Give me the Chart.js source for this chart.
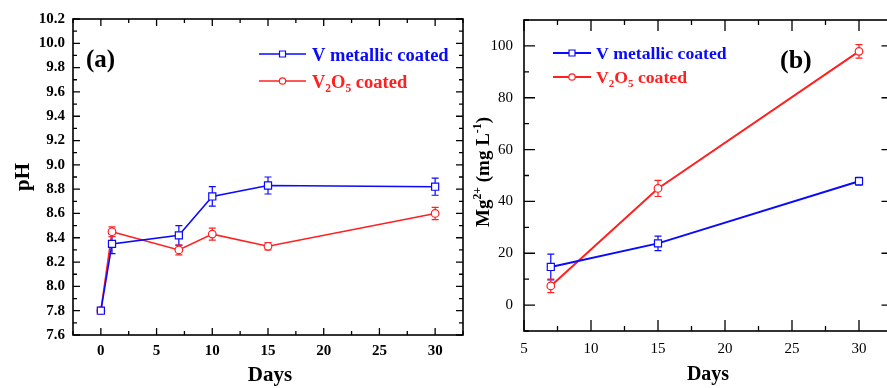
<!DOCTYPE html>
<html>
<head>
<meta charset="utf-8">
<script src="https://cdn.jsdelivr.net/npm/chart.js@4.4.1/dist/chart.umd.min.js"></script>
<style>
  html, body { margin: 0; padding: 0; background: #fff; overflow: hidden; }
  #wrap { position: relative; width: 887px; height: 388px; overflow: hidden; }
  #chartA { position: absolute; left: 0; top: 0; }
  #chartB { position: absolute; left: 470px; top: 0; }
</style>
</head>
<body>
<div id="wrap">
  <canvas id="chartA" width="470" height="388"></canvas>
  <canvas id="chartB" width="430" height="388"></canvas>
</div>
<script>
// panel (a): pH vs days
var daysA = [0, 1, 7, 10, 15, 30];
var phMetal = [7.80, 8.35, 8.42, 8.74, 8.83, 8.82];
var phMetalErr = [0, 0.08, 0.08, 0.08, 0.07, 0.07];
var phOxide = [7.80, 8.45, 8.30, 8.43, 8.33, 8.60];
var phOxideErr = [0, 0.04, 0.04, 0.05, 0.03, 0.05];
var ticksAX = [0, 5, 10, 15, 20, 25, 30];
var ticksAY = [7.6, 7.8, 8.0, 8.2, 8.4, 8.6, 8.8, 9.0, 9.2, 9.4, 9.6, 9.8, 10.0, 10.2];

// panel (b): Mg2+ release vs days
var daysB = [7, 15, 30];
var mgMetal = [14.7, 23.8, 47.8];
var mgMetalErr = [5, 2.8, 1.5];
var mgOxide = [7.4, 45, 97.9];
var mgOxideErr = [2.6, 3.1, 2.6];
var ticksBX = [5, 10, 15, 20, 25, 30];
var ticksBY = [0, 20, 40, 60, 80, 100];

var BLUE = '#0a0aff';
var RED = '#ff2020';

function pts(xs, ys) {
  var out = [];
  for (var i = 0; i < xs.length; i++) out.push({x: xs[i], y: ys[i]});
  return out;
}

function minors(major, step, lo, hi) {
  // minor ticks half way between majors, also outside the first/last one
  var out = [];
  for (var v = major[0] - step * 10; v <= hi + 1e-9; v += step) {
    if (v < lo - 1e-9) continue;
    var isMajor = major.some(function (m) { return Math.abs(m - v) < 1e-6; });
    if (!isMajor) out.push(v);
  }
  return out;
}

// draws text with sub/superscript pieces, returns width
function richWidth(ctx, parts, size, weight) {
  var w = 0;
  parts.forEach(function (p) {
    var s = p.sub || p.sup ? size * 0.62 : size;
    ctx.font = weight + ' ' + s + 'px "Liberation Serif"';
    w += ctx.measureText(p.t).width;
  });
  return w;
}
function drawRich(ctx, parts, x, y, size, weight, color) {
  ctx.fillStyle = color;
  ctx.textAlign = 'left';
  ctx.textBaseline = 'alphabetic';
  parts.forEach(function (p) {
    var s = p.sub || p.sup ? size * 0.62 : size;
    var dy = p.sub ? size * 0.2 : (p.sup ? -size * 0.4 : 0);
    ctx.font = weight + ' ' + s + 'px "Liberation Serif"';
    ctx.fillText(p.t, x, y + dy);
    x += ctx.measureText(p.t).width;
  });
}

var errorBars = {
  id: 'errorBars',
  beforeDatasetsDraw: function (chart) {
    var ctx = chart.ctx;
    var xs = chart.scales.x, ys = chart.scales.y;
    chart.data.datasets.forEach(function (ds) {
      if (!ds.err) return;
      ctx.save();
      ctx.strokeStyle = ds.borderColor;
      ctx.lineWidth = 1.2;
      ds.data.forEach(function (p, i) {
        var e = ds.err[i];
        if (!e) return;
        var px = xs.getPixelForValue(p.x);
        var top = ys.getPixelForValue(p.y + e);
        var bot = ys.getPixelForValue(p.y - e);
        ctx.beginPath();
        ctx.moveTo(px, top); ctx.lineTo(px, bot);
        ctx.moveTo(px - 3.5, top); ctx.lineTo(px + 3.5, top);
        ctx.moveTo(px - 3.5, bot); ctx.lineTo(px + 3.5, bot);
        ctx.stroke();
      });
      ctx.restore();
    });
  }
};

var decor = {
  id: 'decor',
  afterDraw: function (chart) {
    var o = chart.options.plugins.decor;
    var ctx = chart.ctx;
    var a = chart.chartArea;
    var xs = chart.scales.x, ys = chart.scales.y;
    ctx.save();
    ctx.strokeStyle = '#000';
    ctx.lineWidth = 1.6;
    ctx.strokeRect(a.left, a.top, a.right - a.left, a.bottom - a.top);

    // inward ticks on all four sides
    ctx.lineWidth = 1.3;
    function tx(v, len) {
      var px = xs.getPixelForValue(v);
      ctx.beginPath();
      ctx.moveTo(px, a.bottom); ctx.lineTo(px, a.bottom - len);
      ctx.moveTo(px, a.top); ctx.lineTo(px, a.top + len);
      ctx.stroke();
    }
    function ty(v, len) {
      var py = ys.getPixelForValue(v);
      ctx.beginPath();
      ctx.moveTo(a.left, py); ctx.lineTo(a.left + len, py);
      ctx.moveTo(a.right, py); ctx.lineTo(a.right - len, py);
      ctx.stroke();
    }
    o.xMajor.forEach(function (v) { tx(v, o.major); });
    o.xMinor.forEach(function (v) { tx(v, o.minor); });
    o.yMajor.forEach(function (v) { ty(v, o.major); });
    o.yMinor.forEach(function (v) { ty(v, o.minor); });

    // panel label
    ctx.fillStyle = '#000';
    ctx.font = 'bold ' + o.tag.size + 'px "Liberation Serif"';
    ctx.textAlign = 'left';
    ctx.textBaseline = 'middle';
    ctx.fillText(o.tag.text, o.tag.x, o.tag.y);

    // axis titles
    ctx.font = 'bold ' + o.xTitle.size + 'px "Liberation Serif"';
    ctx.textAlign = 'center';
    ctx.textBaseline = 'alphabetic';
    ctx.fillText(o.xTitle.text, o.xTitle.x, o.xTitle.y);
    ctx.save();
    ctx.translate(o.yTitle.x, o.yTitle.y);
    ctx.rotate(-Math.PI / 2);
    var w = richWidth(ctx, o.yTitle.parts, o.yTitle.size, 'bold');
    drawRich(ctx, o.yTitle.parts, -w / 2, 0, o.yTitle.size, 'bold', '#000');
    ctx.restore();

    // legend
    var L = o.legend;
    chart.data.datasets.forEach(function (ds, i) {
      var ly = L.y[i];
      ctx.strokeStyle = ds.borderColor;
      ctx.lineWidth = ds.borderWidth;
      ctx.beginPath();
      ctx.moveTo(L.x0, ly); ctx.lineTo(L.x1, ly);
      ctx.stroke();
      var mx = (L.x0 + L.x1) / 2;
      ctx.fillStyle = '#fff';
      ctx.lineWidth = 1.2;
      ctx.beginPath();
      if (ds.pointStyle === 'rect') {
        ctx.rect(mx - 3, ly - 3, 6, 6);
      } else {
        ctx.arc(mx, ly, 3.2, 0, Math.PI * 2);
      }
      ctx.fill();
      ctx.stroke();
      drawRich(ctx, ds.legendParts, L.tx, ly + L.dy, L.size, 'bold', ds.borderColor);
    });
    ctx.restore();
  }
};

function fixTicks(list) {
  return function (scale) {
    scale.ticks = list.map(function (v) { return {value: v}; });
  };
}

function makeConfig(p) {
  return {
    type: 'line',
    data: {
      datasets: [{
        label: 'V metallic coated',
        legendParts: [{t: 'V metallic coated'}],
        data: pts(p.xs, p.metal),
        err: p.metalErr,
        borderColor: BLUE,
        backgroundColor: '#fff',
        borderWidth: p.lw,
        pointStyle: 'rect',
        pointRadius: 5,
        pointBorderWidth: 1.2,
        pointBackgroundColor: '#fff',
        tension: 0
      }, {
        label: 'V2O5 coated',
        legendParts: [{t: 'V'}, {t: '2', sub: true}, {t: 'O'}, {t: '5', sub: true}, {t: ' coated'}],
        data: pts(p.xs, p.oxide),
        err: p.oxideErr,
        borderColor: RED,
        backgroundColor: '#fff',
        borderWidth: p.lw,
        pointStyle: 'circle',
        pointRadius: 3.8,
        pointBorderWidth: 1.2,
        pointBackgroundColor: '#fff',
        tension: 0
      }]
    },
    options: {
      responsive: false,
      animation: false,
      events: [],
      layout: { padding: p.pad },
      scales: {
        x: {
          type: 'linear',
          min: p.xMin, max: p.xMax,
          grid: { display: false, drawTicks: false },
          border: { display: false },
          afterBuildTicks: fixTicks(p.xTicks),
          afterFit: function (s) { s.height = p.xH; },
          ticks: {
            padding: p.xPad,
            color: '#000',
            font: { family: 'Liberation Serif', size: 15, weight: p.tickWeight },
            callback: function (v) { return v; }
          }
        },
        y: {
          min: p.yMin, max: p.yMax,
          grid: { display: false, drawTicks: false },
          border: { display: false },
          afterBuildTicks: fixTicks(p.yTicks),
          afterFit: function (s) { s.width = p.yW; },
          ticks: {
            padding: p.yPad,
            color: '#000',
            font: { family: 'Liberation Serif', size: 15, weight: p.tickWeight },
            callback: p.yFmt
          }
        }
      },
      plugins: {
        legend: { display: false },
        tooltip: { enabled: false },
        decor: p.decor
      }
    },
    plugins: [errorBars, decor]
  };
}

new Chart(document.getElementById('chartA'), makeConfig({
  xs: daysA, metal: phMetal, metalErr: phMetalErr, oxide: phOxide, oxideErr: phOxideErr,
  lw: 1.6,
  pad: { top: 19, right: 7, left: 0, bottom: 0 },
  xMin: -2.5, xMax: 32.5, yMin: 7.6, yMax: 10.2,
  xTicks: ticksAX, yTicks: ticksAY, xH: 53, yW: 73, xPad: 7, yPad: 8,
  tickWeight: 'bold',
  yFmt: function (v) { return v.toFixed(1); },
  decor: {
    major: 7, minor: 4,
    xMajor: ticksAX, xMinor: minors(ticksAX, 2.5, -2.5, 32.5),
    yMajor: ticksAY, yMinor: minors(ticksAY, 0.1, 7.6, 10.2),
    tag: { text: '(a)', x: 86, y: 61, size: 25 },
    xTitle: { text: 'Days', x: 270, y: 381, size: 21 },
    yTitle: { parts: [{t: 'pH'}], x: 29, y: 177, size: 21 },
    legend: { x0: 259, x1: 306, tx: 312, y: [54, 81], dy: 7, size: 18.5 }
  }
}));

new Chart(document.getElementById('chartB'), makeConfig({
  xs: daysB, metal: mgMetal, metalErr: mgMetalErr, oxide: mgOxide, oxideErr: mgOxideErr,
  lw: 2,
  pad: { top: 12, right: 7.5, left: 0, bottom: 0 },
  xMin: 5, xMax: 32.5, yMin: -10, yMax: 110,
  xTicks: ticksBX, yTicks: ticksBY, xH: 57, yW: 54, xPad: 9, yPad: 11,
  tickWeight: 'normal',
  yFmt: function (v) { return v; },
  decor: {
    major: 11, minor: 5,
    xMajor: ticksBX, xMinor: minors(ticksBX, 2.5, 5, 32.5),
    yMajor: ticksBY, yMinor: minors(ticksBY, 10, -10, 110),
    tag: { text: '(b)', x: 310, y: 61, size: 26 },
    xTitle: { text: 'Days', x: 238, y: 380, size: 20 },
    yTitle: { parts: [{t: 'Mg'}, {t: '2+', sup: true}, {t: ' (mg L'}, {t: '-1', sup: true}, {t: ')'}], x: 19, y: 172, size: 19 },
    legend: { x0: 83, x1: 121, tx: 126, y: [53, 77], dy: 6, size: 17.7 }
  }
}));
</script>
</body>
</html>
